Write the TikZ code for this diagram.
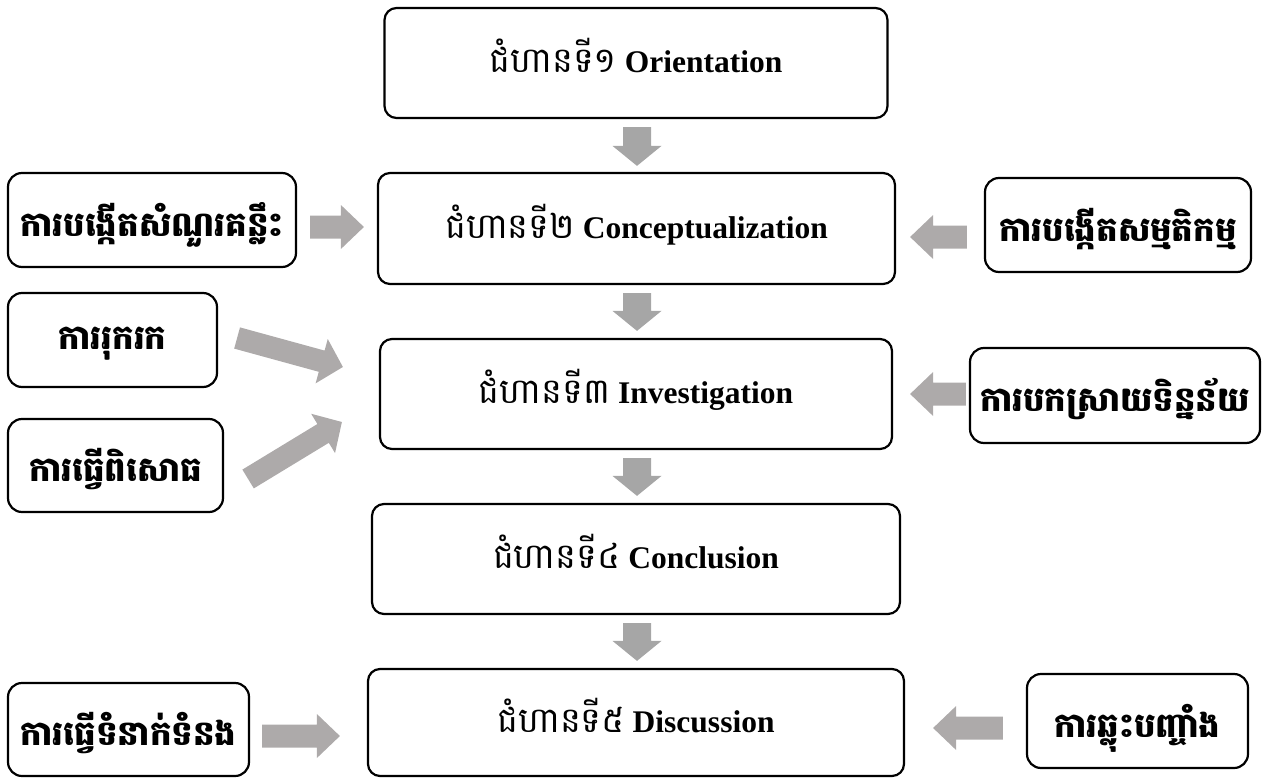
\documentclass[tikz,border=0pt]{standalone}
\usepackage{fontspec}
\setmainfont{Liberation Serif}
\newfontfamily\kh[Script=Khmer]{Battambang}
\usetikzlibrary{calc}
\definecolor{downgray}{HTML}{A6A6A6}
\definecolor{sidegray}{HTML}{ADAAAA}
% block arrow: colour, tail, tip, shaft half width, head half width, head length
\newcommand{\blockarr}[6]{%
  \coordinate (ba-c) at ($(#3)!#6!(#2)$);
  \fill[#1] ($(#2)!#4!90:(#3)$) -- ($(ba-c)!#4!90:(#3)$) -- ($(ba-c)!#5!90:(#3)$)
    -- (#3) -- ($(ba-c)!#5!-90:(#3)$) -- ($(ba-c)!#4!-90:(#3)$) -- ($(#2)!#4!-90:(#3)$) -- cycle;}
\newcommand{\khstep}{\kh\fontsize{35}{40}\selectfont}
\begin{document}
\begin{tikzpicture}[x=1pt,y=-1pt,
  stepbox/.style={draw, line width=2.2pt, rounded corners=12pt, inner sep=0pt,
    text height=19pt, text depth=0pt, font=\fontsize{31.5}{36}\selectfont},
  sidebox/.style={draw, line width=2.2pt, rounded corners=14pt, inner sep=0pt,
    text height=32pt, text depth=0pt, font=\kh\bfseries\fontsize{34}{40}\selectfont}]
\useasboundingbox (0,0) rectangle (1267,779);
% main steps
\node[stepbox, minimum width=503pt, minimum height=110pt] (b1) at (636,63)
  {{\khstep ជំហានទី១} \textbf{Orientation}};
\node[stepbox, minimum width=517pt, minimum height=111pt] (b2) at (636.5,228.5)
  {{\khstep ជំហានទី២} \textbf{Conceptualization}};
\node[stepbox, minimum width=512pt, minimum height=110pt] (b3) at (636,394)
  {{\khstep ជំហានទី៣} \textbf{Investigation}};
\node[stepbox, minimum width=528pt, minimum height=110pt] (b4) at (636,559)
  {{\khstep ជំហានទី៤} \textbf{Conclusion}};
\node[stepbox, minimum width=536pt, minimum height=107pt] (b5) at (636,722.5)
  {{\khstep ជំហានទី៥} \textbf{Discussion}};
% side boxes
\node[sidebox, minimum width=288pt, minimum height=94pt] (L1) at (152,220) {ការបង្កើតសំណួរគន្លឹះ};
\node[sidebox, minimum width=209pt, minimum height=94pt, text height=18pt] (L2) at (112.5,340) {ការរុករក};
\node[sidebox, minimum width=215pt, minimum height=93pt] (L3) at (115.5,465.5) {ការធ្វើពិសោធ};
\node[sidebox, minimum width=241pt, minimum height=93pt] (L5) at (128.5,729.5) {ការធ្វើទំនាក់ទំនង};
\node[sidebox, minimum width=266pt, minimum height=94pt] (R1) at (1118,225) {ការបង្កើតសម្មតិកម្ម};
\node[sidebox, minimum width=290pt, minimum height=95pt] (R2) at (1115,395.5) {ការបកស្រាយទិន្នន័យ};
\node[sidebox, minimum width=221pt, minimum height=94pt] (R5) at (1137.5,721) {ការឆ្លុះបញ្ចាំង};
% arrow end points
\coordinate (d1a) at ($(b1.south)+(1,8)$);  \coordinate (d1b) at ($(b2.north)+(0.5,-6)$);
\coordinate (d2a) at ($(b2.south)+(0.5,8)$); \coordinate (d2b) at ($(b3.north)+(1,-7)$);
\coordinate (d3a) at ($(b3.south)+(1,8)$);  \coordinate (d3b) at ($(b4.north)+(1,-7)$);
\coordinate (d4a) at ($(b4.south)+(1,8)$);  \coordinate (d4b) at ($(b5.north)+(1,-7)$);
\coordinate (l1a) at ($(L1.east)+(13,7)$);  \coordinate (l1b) at ($(b2.west)+(-13,-1.5)$);
\coordinate (l2a) at ($(L2.east)+(19,-2)$); \coordinate (l2b) at ($(b3.west)+(-36,-27)$);
\coordinate (l3a) at ($(L3.east)+(24,13.5)$); \coordinate (l3b) at ($(b3.west)+(-37,28)$);
\coordinate (l5a) at ($(L5.east)+(12,6.5)$); \coordinate (l5b) at ($(b5.west)+(-27,13.5)$);
\coordinate (r1a) at ($(R1.west)+(-17,12)$); \coordinate (r1b) at ($(b2.east)+(14,8.5)$);
\coordinate (r2a) at ($(R2.west)+(-3,-1.5)$); \coordinate (r2b) at ($(b3.east)+(17,0)$);
\coordinate (r5a) at ($(R5.west)+(-23,7)$); \coordinate (r5b) at ($(b5.east)+(28,5.5)$);
% arrows
\blockarr{downgray}{d1a}{d1b}{14pt}{24.5pt}{20pt}
\blockarr{downgray}{d2a}{d2b}{14pt}{24.5pt}{20pt}
\blockarr{downgray}{d3a}{d3b}{14pt}{24.5pt}{20pt}
\blockarr{downgray}{d4a}{d4b}{14pt}{24.5pt}{20pt}
\blockarr{sidegray}{l1a}{l1b}{11.5pt}{22pt}{23pt}
\blockarr{sidegray}{l2a}{l2b}{11pt}{23pt}{22pt}
\blockarr{sidegray}{l3a}{l3b}{11pt}{23pt}{22pt}
\blockarr{sidegray}{l5a}{l5b}{11.5pt}{22pt}{23pt}
\blockarr{sidegray}{r1a}{r1b}{11.5pt}{22pt}{23pt}
\blockarr{sidegray}{r2a}{r2b}{11.5pt}{22pt}{23pt}
\blockarr{sidegray}{r5a}{r5b}{11.5pt}{22pt}{23pt}
\end{tikzpicture}
\end{document}
